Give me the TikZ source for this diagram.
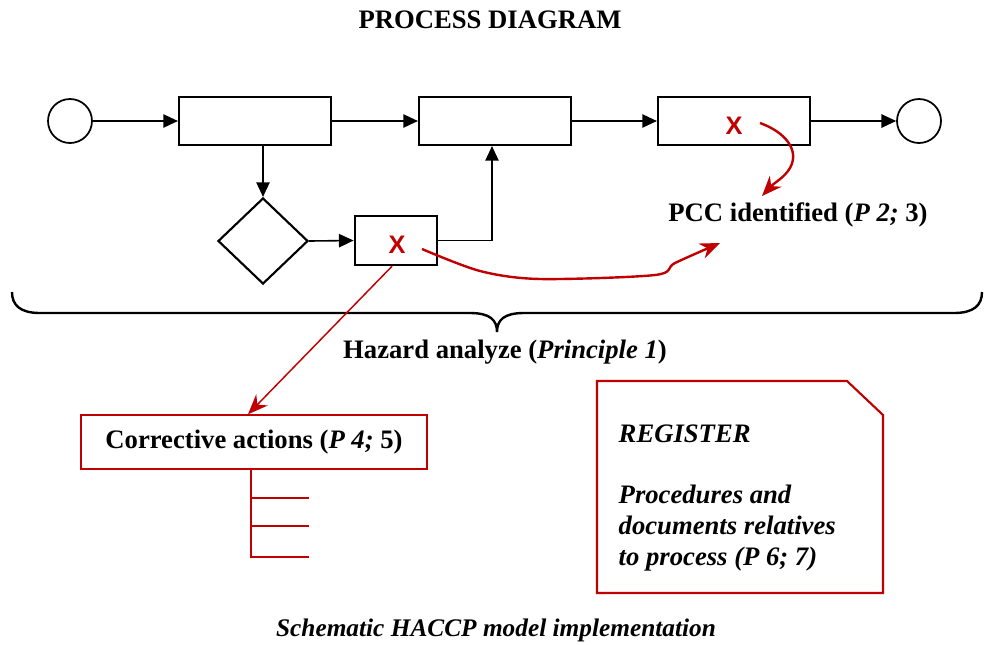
\documentclass[tikz,border=0pt]{standalone}
\usepackage{fontspec}
\setmainfont{Liberation Serif}
\newfontfamily\xfont{Liberation Sans}
\usetikzlibrary{shapes.geometric,arrows.meta}
\definecolor{hred}{HTML}{C00000}
\begin{document}
\begin{tikzpicture}[x=0.75pt,y=-0.75pt,
  proc/.style={draw,line width=1.6pt,minimum width=114pt,minimum height=36pt,inner sep=0},
  term/.style={circle,draw,line width=1.3pt,minimum size=33pt,inner sep=0},
  conn/.style={line width=1.2pt,-{Triangle[length=11pt,width=10pt]}},
  rarrow/.style={hred,line width=1.8pt,-{Stealth[length=15pt,width=12pt]}},
  rline/.style={hred,line width=1.1pt},
  lbl/.style={font=\fontsize{20}{23}\selectfont\bfseries},
  xmark/.style={text=hred,font=\xfont\fontsize{19}{19}\selectfont\bfseries,inner sep=0}]
\useasboundingbox (0,0) rectangle (985,644);

\node[lbl] (title) at (490,20) {PROCESS DIAGRAM};

\node[term] (start) at (70,121) {};
\node[proc] (b1) at (255,121) {};
\node[proc] (b2) at (495,121) {};
\node[proc] (b3) at (734,121) {};
\node[term] (end) at (919,121) {};
\node[diamond,draw,line width=1.6pt,minimum width=67.5pt,minimum height=64.5pt,inner sep=0] (dia) at (263,241) {};
\node[draw,line width=1.6pt,minimum width=62pt,minimum height=37pt,inner sep=0] (b4) at (396,240.5) {};

\draw[conn] (start) -- (b1);
\draw[conn] (b1) -- (b2);
\draw[conn] (b2) -- (b3);
\draw[conn] (b3) -- (end);
\draw[conn] (b1.south -| dia.north) -- (dia.north);
\draw[conn] (dia.east) -- (b4.west);
\draw[conn] (b4.east) -| ([xshift=-2.25pt]b2.south);

\node[xmark] (x4) at (397,245) {X};
\node[xmark] (x3) at (734,126) {X};

\node[lbl] (pcc) at (798,215) {PCC identified (\textit{P 2;} 3)};
\node[lbl] (haz) at (505,352) {Hazard analyze (\textit{Principle 1})};

% curved red arrows
\coordinate (c1a) at (422,249);
\coordinate (c1b) at (480,271);
\coordinate (c1c) at (540,279);
\coordinate (c1d) at (655,275);
\coordinate (c1e) at (675,263);
\coordinate (c1f) at (720,243);
\draw[rarrow] plot[smooth,tension=0.5] coordinates {(c1a) (c1b) (c1c) (c1d) (c1e) (c1f)};

\coordinate (c2a) at (760,123);
\coordinate (c2b) at (790,168);
\coordinate (c2c) at (762,196);
\draw[rarrow] (c2a) .. controls (785,132) and (800,150) .. (c2b) .. controls (784,178) and (775,182) .. (c2c);

% brace
\coordinate (bl) at (12,292);
\coordinate (bt) at (497,332);
\coordinate (br) at (982,292);
\draw[line width=1.8pt] (bl) .. controls (12,305) and (20,313) .. (40,313) -- (470,313)
  .. controls (490,313) and (497,320) .. (bt) .. controls (497,320) and (504,313) .. (524,313)
  -- (954,313) .. controls (974,313) and (982,305) .. (br);

% corrective
\node[draw=hred,line width=1.6pt,minimum width=259.5pt,minimum height=40pt,lbl] (corr) at (254,442) {Corrective actions (\textit{P 4;} 5)};
\draw[rarrow,line width=1.1pt] ([xshift=-3pt]b4.south) -- ([xshift=-4.5pt]corr.north);
\coordinate (t0) at (251,468);
\coordinate (t1) at (251,498);
\coordinate (t2) at (251,526);
\coordinate (t3) at (251,557);
\draw[rline] (t0) -- (t3) -- (309,557);
\draw[rline] (t1) -- (309,498);
\draw[rline] (t2) -- (309,526);

% register
\coordinate (r1) at (597,381);
\coordinate (r2) at (847,381);
\coordinate (r3) at (883,415);
\coordinate (r4) at (883,593);
\coordinate (r5) at (597,593);
\draw[hred,line width=1.6pt] (r1) -- (r2) -- (r3) -- (r4) -- (r5) -- cycle;
\node[lbl,anchor=north west,align=left,font=\fontsize{20}{23}\selectfont\bfseries\itshape] (reg) at (614,420)
  {REGISTER\\[23pt]Procedures and\\documents relatives\\to process (P 6; 7)};

\node[lbl,font=\fontsize{19}{23}\selectfont\bfseries\itshape] (cap) at (496,630) {Schematic HACCP model implementation};
\end{tikzpicture}
\end{document}
